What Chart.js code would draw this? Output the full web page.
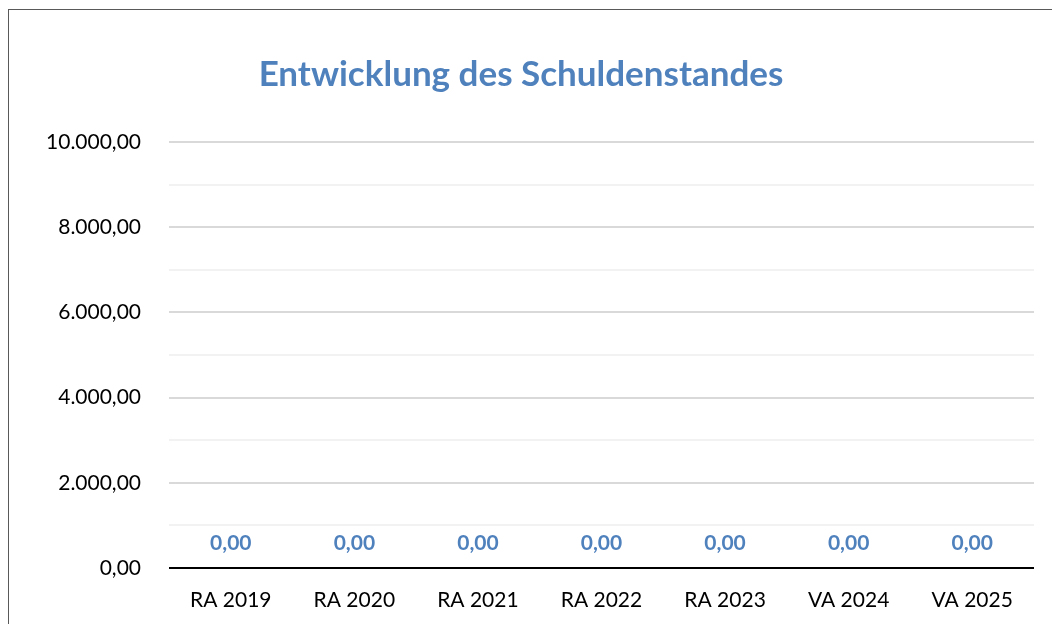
<!DOCTYPE html>
<html>
<head>
<meta charset="utf-8">
<script src="https://cdn.jsdelivr.net/npm/chart.js@4/dist/chart.umd.min.js"></script>
<style>
  html, body { margin: 0; padding: 0; background: #fff; }
  #wrap { position: relative; width: 1052px; height: 624px; overflow: hidden; }
  #frame { position: absolute; left: 8px; top: 9px; width: 1100px; height: 700px; border: 1px solid #595959; box-sizing: border-box; }
  canvas { position: absolute; left: 0; top: 0; }
</style>
</head>
<body>
<div id="wrap">
  <div id="frame"></div>
  <canvas id="c" width="1052" height="624"></canvas>
</div>
<script>
const chartTitle = "Entwicklung des Schuldenstandes";
const categories = ["RA 2019", "RA 2020", "RA 2021", "RA 2022", "RA 2023", "VA 2024", "VA 2025"];
const debtValues = [0, 0, 0, 0, 0, 0, 0];
const yMin = 0, yMax = 10000, yMinorStep = 1000, yMajorStep = 2000;

const FONT = "Lato, 'Liberation Sans', sans-serif";
const BLUE = "#4F81BD";

function fmtDE(v) {
  return v.toLocaleString("de-DE", { minimumFractionDigits: 2, maximumFractionDigits: 2 });
}

const titlePlugin = {
  id: "customTitle",
  afterDraw(chart) {
    const ctx = chart.ctx;
    ctx.save();
    ctx.font = "bold 35px " + FONT;
    ctx.fillStyle = BLUE;
    ctx.textAlign = "center";
    ctx.textBaseline = "alphabetic";
    ctx.fillText(chartTitle, 521, 86);
    ctx.restore();
  }
};

const labelPlugin = {
  id: "valueLabels",
  afterDatasetsDraw(chart) {
    const ctx = chart.ctx;
    const meta = chart.getDatasetMeta(0);
    const yScale = chart.scales.y;
    ctx.save();
    ctx.font = "bold 21px " + FONT;
    ctx.fillStyle = BLUE;
    ctx.textAlign = "center";
    ctx.textBaseline = "middle";
    meta.data.forEach((bar, i) => {
      const v = chart.data.datasets[0].data[i];
      const y = yScale.getPixelForValue(v) - 25;
      ctx.fillText(fmtDE(v), bar.x, y);
    });
    ctx.restore();
  }
};

new Chart(document.getElementById("c"), {
  type: "bar",
  data: {
    labels: categories,
    datasets: [{ label: "Schuldenstand", data: debtValues, backgroundColor: BLUE }]
  },
  options: {
    responsive: false,
    animation: false,
    layout: { padding: { top: 142, right: 18, left: 0, bottom: 0 } },
    plugins: { legend: { display: false }, tooltip: { enabled: false }, title: { display: false } },
    scales: {
      x: {
        grid: { display: false },
        border: { display: false },
        ticks: { color: "#000", font: { family: FONT, size: 21 }, padding: 12 },
        afterFit(s) { s.height = 56; }
      },
      y: {
        min: yMin, max: yMax,
        border: { display: false },
        grid: {
          drawTicks: false,
          lineWidth: 2,
          color: (c) => {
            const v = c.tick.value;
            if (v === 0) return "#000";
            return (v % yMajorStep === 0) ? "#d9d9d9" : "#f2f2f2";
          }
        },
        ticks: {
          stepSize: yMinorStep,
          color: "#000",
          padding: 28,
          font: { family: FONT, size: 21 },
          callback: (v) => (v % yMajorStep === 0 ? fmtDE(v) : "")
        },
        afterFit(s) { s.width = 169; }
      }
    }
  },
  plugins: [titlePlugin, labelPlugin]
});
</script>
</body>
</html>
